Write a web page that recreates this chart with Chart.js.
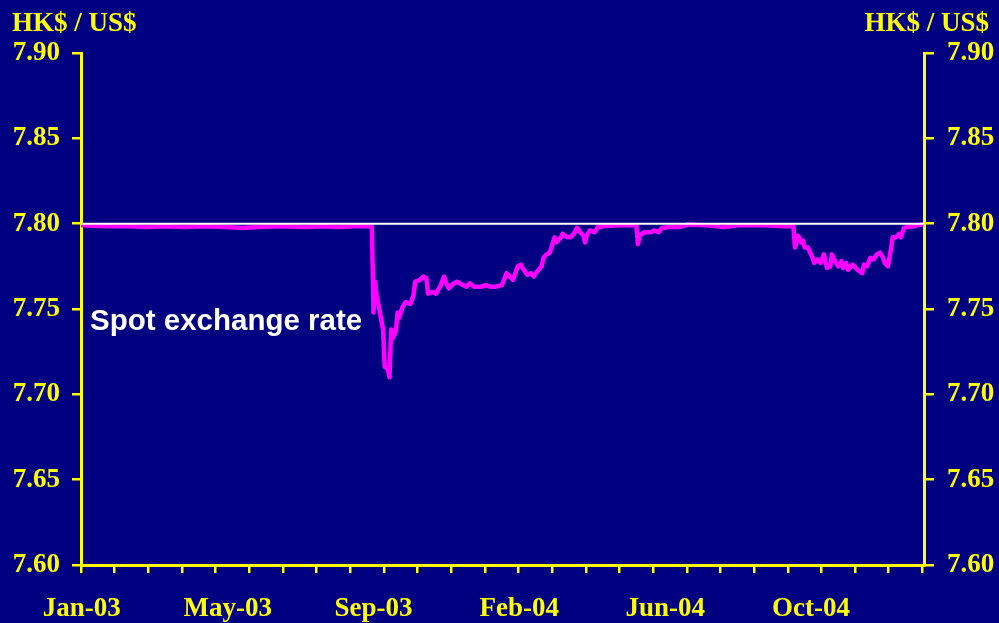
<!DOCTYPE html>
<html>
<head>
<meta charset="utf-8">
<script src="https://cdn.jsdelivr.net/npm/chart.js@4/dist/chart.umd.min.js"></script>
<style>
  html, body { margin: 0; padding: 0; background: #000080; }
  #wrap { width: 999px; height: 623px; position: relative; }
  canvas { display: block; }
</style>
</head>
<body>
<div id="wrap"><canvas id="c" width="999" height="623"></canvas></div>
<script>
// ---- Data (trading-day index from 2 Jan 2003, HK$ per US$) ----
const dayIndex = [
  0,15,30,40,50,65,75,90,100,110,125,140,150,160,170,181,
  182,183,184,186,188,189,191,192,193,194,196,197,198,200,202,205,207,208,211,213,215,216,219,221,
  224,226,227,229,232,234,236,240,242,245,249,252,255,258,262,263,265,267,269,272,274,275,278,280,
  282,284,287,288,290,292,294,295,296,299,300,303,305,307,309,311,313,314,315,317,320,322,325,335,
  345,346,347,348,351,355,357,360,362,367,373,378,390,401,410,425,438,444,
  445,446,447,449,450,451,453,456,457,458,459,461,463,465,467,468,470,472,474,475,477,478,481,483,
  484,487,488,490,492,494,496,498,500,501,503,505,506,508,510,511,513,515,519,524
];
const spotRate = [
  7.799,7.7985,7.7985,7.798,7.7985,7.798,7.7985,7.798,7.7975,7.798,7.7985,7.798,7.7985,7.798,7.7985,7.7985,
  7.748,7.766,7.758,7.748,7.738,7.716,7.715,7.710,7.738,7.733,7.737,7.748,7.745,7.751,7.754,7.753,7.758,7.766,7.767,7.769,7.768,7.759,7.760,7.759,
  7.764,7.769,7.766,7.762,7.765,7.766,7.765,7.763,7.765,7.763,7.763,7.764,7.763,7.763,7.764,7.766,7.771,7.769,7.767,7.775,7.776,7.774,7.770,7.771,
  7.769,7.772,7.775,7.780,7.782,7.783,7.789,7.792,7.789,7.792,7.794,7.792,7.792,7.794,7.7975,7.795,7.793,7.789,7.793,7.796,7.795,7.798,7.7985,7.799,
  7.799,7.799,7.788,7.793,7.795,7.795,7.796,7.795,7.7975,7.798,7.798,7.7995,7.799,7.798,7.799,7.799,7.7985,7.7985,
  7.786,7.789,7.793,7.789,7.790,7.786,7.786,7.780,7.777,7.778,7.779,7.777,7.782,7.774,7.775,7.782,7.778,7.775,7.778,7.774,7.777,7.773,7.776,7.774,
  7.773,7.771,7.776,7.775,7.780,7.779,7.782,7.783,7.780,7.777,7.775,7.786,7.792,7.792,7.794,7.792,7.7975,7.798,7.7985,7.7995
];
const pegRate = 7.80;
const tickLabels = ['Jan-03', 'May-03', 'Sep-03', 'Feb-04', 'Jun-04', 'Oct-04'];
const tickLabelIndex = [0, 91, 182, 273, 364, 455];
const monthTickIndex = [-0.5,20.5,41.5,62.5,83.5,104.5,125.5,146.5,167.5,188.5,209.5,230.5,251.5,272.5,293.5,314.5,335.5,356.5,377.5,398.5,419.5,440.5,461.5,482.5,503.5,524.5];
const yTicks = [7.60, 7.65, 7.70, 7.75, 7.80, 7.85, 7.90];
const unitLabel = 'HK$ / US$';
const seriesLabel = 'Spot exchange rate';

// ---- Styling ----
const YELLOW = '#FFFF00';
const NAVY = '#000080';
const MAGENTA = '#FF00FF';
const SERIF = "'Liberation Serif', 'Times New Roman', serif";
const SANS = "'Liberation Sans', Arial, sans-serif";

const spotPoints = dayIndex.map((d, i) => ({ x: d, y: spotRate[i] }));
const pegPoints = [{ x: -0.5, y: pegRate }, { x: 525.5, y: pegRate }];

const bgPlugin = {
  id: 'bg',
  beforeDraw(chart) {
    const ctx = chart.ctx;
    ctx.save();
    ctx.fillStyle = NAVY;
    ctx.fillRect(0, 0, chart.width, chart.height);
    ctx.restore();
  }
};

const textPlugin = {
  id: 'texts',
  afterDraw(chart) {
    const ctx = chart.ctx;
    const a = chart.chartArea;
    ctx.save();
    ctx.fillStyle = YELLOW;
    ctx.font = 'bold 27px ' + SERIF;
    ctx.textBaseline = 'alphabetic';
    ctx.textAlign = 'left';
    ctx.fillText(unitLabel, 12, 31);
    ctx.textAlign = 'right';
    ctx.fillText(unitLabel, 989, 31);
    ctx.fillStyle = '#FFFFFF';
    ctx.font = 'bold 29.5px ' + SANS;
    ctx.textAlign = 'left';
    ctx.fillText(seriesLabel, a.left + 9, 330);
    ctx.restore();
  }
};

const yCommon = {
  type: 'linear',
  min: 7.60,
  max: 7.90,
  afterBuildTicks(scale) { scale.ticks = yTicks.map(v => ({ value: v })); },
  grid: { drawOnChartArea: false, color: YELLOW, tickLength: 9, lineWidth: 2.5 },
  border: { color: YELLOW, width: 3 },
  ticks: {
    color: YELLOW,
    font: { family: SERIF, size: 27, weight: 'bold' },
    padding: 12,
    callback: v => Number(v).toFixed(2)
  }
};

const chart = new Chart(document.getElementById('c'), {
  type: 'line',
  data: {
    datasets: [
      {
        label: 'peg',
        data: pegPoints,
        borderColor: '#FFFFFF',
        borderWidth: 2,
        pointRadius: 0,
        order: 0
      },
      {
        label: seriesLabel,
        data: spotPoints,
        borderColor: MAGENTA,
        borderWidth: 4.5,
        pointRadius: 0,
        tension: 0,
        borderJoinStyle: 'round',
        borderCapStyle: 'round',
        order: 1
      }
    ]
  },
  options: {
    responsive: false,
    animation: false,
    devicePixelRatio: 1,
    layout: { padding: { top: 53, left: 0, right: 0, bottom: 0 } },
    plugins: { legend: { display: false }, tooltip: { enabled: false } },
    scales: {
      x: {
        type: 'linear',
        position: 'bottom',
        min: -0.5,
        max: 525.5,
        afterBuildTicks(scale) {
          const t = monthTickIndex.concat(tickLabelIndex).sort((p, q) => p - q);
          scale.ticks = t.map(v => ({ value: v }));
        },
        afterFit(scale) { scale.height = 58; },
        grid: {
          drawOnChartArea: false,
          lineWidth: 2.5,
          tickLength: 8,
          tickColor: ctx => (ctx.tick && tickLabelIndex.includes(ctx.tick.value)) ? 'rgba(0,0,0,0)' : YELLOW,
          color: YELLOW
        },
        border: { color: YELLOW, width: 3 },
        ticks: {
          autoSkip: false,
          maxRotation: 0,
          minRotation: 0,
          padding: 20,
          color: YELLOW,
          font: { family: SERIF, size: 27, weight: 'bold' },
          callback: v => {
            const k = tickLabelIndex.indexOf(v);
            return k >= 0 ? tickLabels[k] : '';
          }
        }
      },
      y: Object.assign({}, yCommon, {
        position: 'left',
        afterFit(scale) { scale.width = 81; }
      }),
      y2: Object.assign({}, yCommon, {
        position: 'right',
        afterFit(scale) { scale.width = 75; },
        grid: { drawOnChartArea: false, color: YELLOW, tickLength: 10, lineWidth: 2.5 },
        ticks: Object.assign({}, yCommon.ticks, { padding: 13 })
      })
    }
  },
  plugins: [bgPlugin, textPlugin]
});
</script>
</body>
</html>
